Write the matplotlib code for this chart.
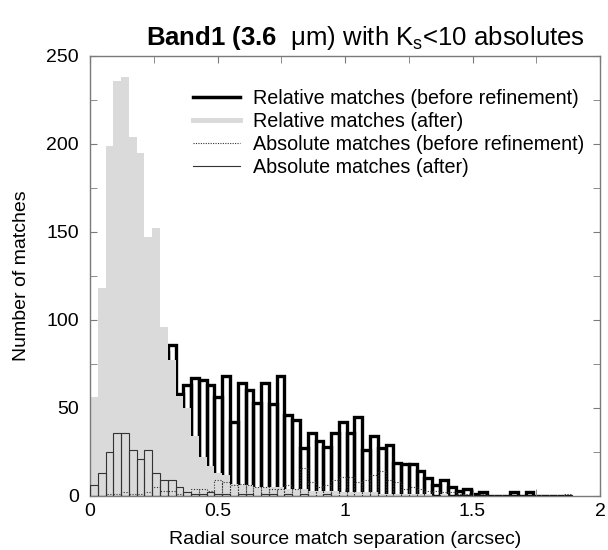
import numpy as np
import matplotlib
matplotlib.use("Agg")
import matplotlib.pyplot as plt
from matplotlib.lines import Line2D
from matplotlib.ticker import MultipleLocator

plt.rcParams.update({
    "font.family": ["Liberation Sans", "DejaVu Sans"],
    "mathtext.fontset": "custom",
    "mathtext.rm": "Liberation Sans",
    "mathtext.bf": "Liberation Sans:bold",
    "mathtext.it": "Liberation Sans:italic",
})

BIN_W = 0.0305  # arcsec per bin

# relative matches, before refinement (black outline bars)
rel_before = [10, 22, 35, 45, 52, 60, 66, 72, 78, 82,
              86, 58, 63, 67, 66, 63, 56, 68, 42, 64,
              60, 53, 64, 52, 68, 46, 43, 27, 36, 31,
              28, 36, 42, 36, 45, 26, 34, 27, 29, 19,
              18, 18, 14, 10, 6, 9, 5, 3, 4, 1,
              2, 0, 0, 0, 2, 0, 2, 0, 0, 0,
              0, 0]
# relative matches, after refinement (grey filled)
rel_after = [56, 118, 199, 236, 238, 204, 195, 147, 152, 96,
             77, 57, 50, 34, 22, 17, 13, 12, 7, 6,
             6, 5, 5, 5, 5, 4, 4, 4, 3, 3,
             3, 3, 2, 2, 2, 2, 2, 1, 1, 1,
             1, 1, 1, 1, 0, 1, 0, 0, 0, 0,
             0, 0, 0, 0, 0, 0, 0, 0, 0, 0,
             0, 0]
# absolute matches, before refinement (dotted)
abs_before = [0, 0, 1, 1, 2, 1, 1, 2, 5, 3,
              3, 1, 2, 4, 4, 3, 9, 8, 6, 7,
              6, 5, 5, 4, 4, 6, 4, 16, 8, 5,
              6, 9, 11, 11, 8, 9, 12, 14, 9, 8,
              4, 5, 4, 3, 3, 2, 2, 1, 1, 0,
              1, 0, 0, 0, 0, 0, 0, 0, 0, 0,
              0, 1]
# absolute matches, after refinement (thin solid)
abs_after = [6, 13, 25, 36, 36, 26, 21, 26, 13, 9,
             9, 5, 2, 1, 1, 2, 1, 1, 0, 1,
             1, 0, 1, 1, 0, 1, 0, 1, 0, 0,
             1, 0, 0, 0, 0, 0, 0, 0, 0, 0,
             0, 0, 0, 0, 0, 0, 0, 0, 0, 0,
             0, 0, 0, 0, 0, 0, 0, 0, 0, 0,
             0, 0]

GREY = "#dadada"
SPINE = "#7a7a7a"

left = np.arange(len(rel_before)) * BIN_W
edges = np.arange(len(rel_after) + 1) * BIN_W

fig = plt.figure(figsize=(6.08, 5.5), dpi=100)
ax = fig.add_axes([90 / 608, 54 / 550, 510 / 608, 440 / 550])

ax.bar(left, rel_before, width=BIN_W, align="edge", fill=False,
       edgecolor="black", linewidth=2.4, zorder=1)
ax.stairs(rel_after, edges, fill=True, color=GREY, zorder=2)
ax.bar(left, abs_before, width=BIN_W, align="edge", fill=False,
       edgecolor="#333333", linewidth=0.8, linestyle=(0, (1, 1.5)), zorder=3)
ax.bar(left, abs_after, width=BIN_W, align="edge", fill=False,
       edgecolor="#333333", linewidth=0.8, zorder=4)

ax.set_xlim(0, 2)
ax.set_ylim(0, 250)
ax.xaxis.set_minor_locator(MultipleLocator(0.25))
ax.yaxis.set_major_locator(MultipleLocator(50))
ax.yaxis.set_minor_locator(MultipleLocator(25))
ax.set_xticks([0, 0.5, 1, 1.5, 2], ["0", "0.5", "1", "1.5", "2"])
ax.tick_params(which="both", direction="in", top=True, right=True,
               color=SPINE, labelsize=14, length=5)
ax.tick_params(axis="y", pad=8)
ax.tick_params(axis="x", pad=5)
for s in ax.spines.values():
    s.set_color(SPINE)
    s.set_linewidth(1.0)

ax.set_xlabel("Radial source match separation (arcsec)", fontsize=14, labelpad=8)
ax.set_ylabel("Number of matches", fontsize=14, labelpad=12)
ax.set_title(r"$\mathbf{Band1\ (3.6}$  μm) with K$_\mathrm{s}$<10 absolutes",
             fontsize=18.5, pad=8, x=0.54)

handles = [
    Line2D([], [], color="black", lw=2.5),
    Line2D([], [], color=GREY, lw=3.5),
    Line2D([], [], color="#333333", lw=0.8, linestyle=(0, (1, 1.2))),
    Line2D([], [], color="#333333", lw=0.8),
]
labels = ["Relative matches (before refinement)", "Relative matches (after)",
          "Absolute matches (before refinement)", "Absolute matches (after)"]
ax.legend(handles, labels, loc="upper left", bbox_to_anchor=(0.202, 0.925),
          frameon=False, fontsize=14.2, handlelength=2.4, handletextpad=0.65,
          labelspacing=0.2, borderpad=0, borderaxespad=0)

fig.savefig("out.png", dpi=100)
